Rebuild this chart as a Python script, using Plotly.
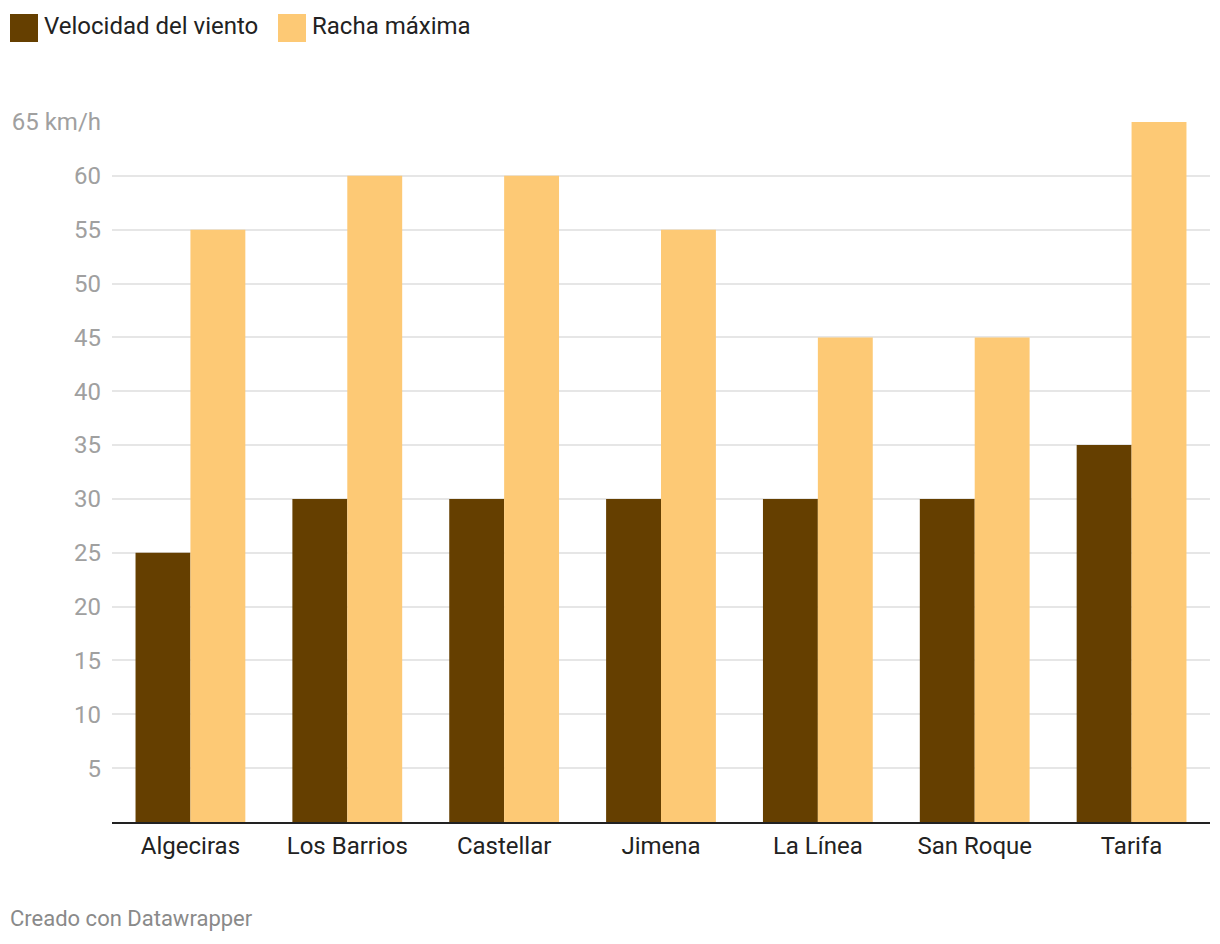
import plotly.graph_objects as go

categories = ["Algeciras", "Los Barrios", "Castellar", "Jimena", "La Línea", "San Roque", "Tarifa"]
velocidad = [25, 30, 30, 30, 30, 30, 35]
racha = [55, 60, 60, 55, 45, 45, 65]
series_names = ["Velocidad del viento", "Racha máxima"]
colors = ["#653f00", "#fdc975"]
y_tickvals = [5, 10, 15, 20, 25, 30, 35, 40, 45, 50, 55, 60, 65]
y_ticktext = ["5", "10", "15", "20", "25", "30", "35", "40", "45", "50", "55", "60", "65 km/h"]

W, H = 1220, 944
OFF = 8  # page body margin
L, R, T, B = 112 - OFF, 10 + OFF, 122 - OFF, 122 + OFF
pw, ph = W - L - R, H - T - B

def px(x):
    return (x - OFF - L) / pw

def py(y):
    return (H - B - (y - OFF)) / ph

fig = go.Figure()
fig.add_trace(go.Bar(x=categories, y=velocidad, name=series_names[0], marker_color=colors[0], marker_line_width=0))
fig.add_trace(go.Bar(x=categories, y=racha, name=series_names[1], marker_color=colors[1], marker_line_width=0))

font = "Roboto, 'Noto Sans', sans-serif"

fig.update_layout(
    width=W, height=H,
    margin=dict(l=L, r=R, t=T, b=B, autoexpand=False),
    paper_bgcolor="white", plot_bgcolor="white",
    barmode="group", bargap=0.3, bargroupgap=0,
    showlegend=False,
    font=dict(family=font, size=24, color="#333333"),
    xaxis=dict(
        range=[-0.5, 6.5], showgrid=False, showline=True, linecolor="#222222", linewidth=2,
        ticks="", tickfont=dict(size=24, color="#222222"), ticklabelstandoff=1,
        fixedrange=True,
    ),
    yaxis=dict(
        range=[0, 65], tickvals=y_tickvals, ticktext=y_ticktext,
        showgrid=True, gridcolor="#e6e6e6", gridwidth=2, zeroline=False,
        ticks="", tickfont=dict(size=24, color="#a0a0a0"), ticklabelstandoff=10,
        showline=False, fixedrange=True,
    ),
)

# custom legend
legend_items = [(10, 42), (278, 310)]
for (sx, tx), name, c in zip(legend_items, series_names, colors):
    fig.add_shape(type="rect", xref="paper", yref="paper",
                  x0=px(sx), x1=px(sx + 28), y0=py(14), y1=py(42),
                  fillcolor=c, line_width=0, layer="above")
    fig.add_annotation(xref="paper", yref="paper", x=px(tx), y=py(26),
                       text=name, showarrow=False, xanchor="left", yanchor="middle",
                       font=dict(size=24, color="#222222", family=font))

fig.add_annotation(xref="paper", yref="paper", x=px(8), y=py(918),
                   text="Creado con Datawrapper", showarrow=False, xanchor="left", yanchor="middle",
                   font=dict(size=22, color="#8a8a8a", family=font))

fig.write_html("out.html")
